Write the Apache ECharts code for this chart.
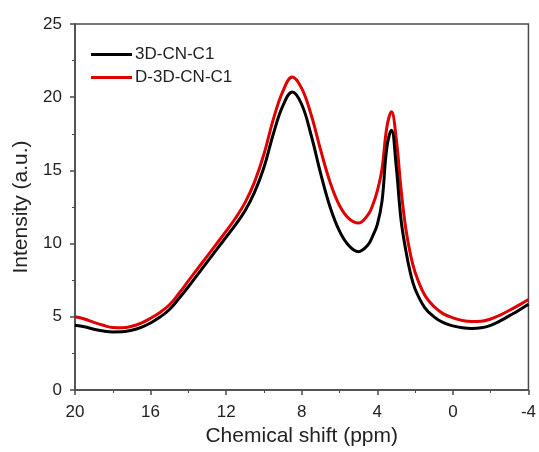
<!DOCTYPE html>
<html>
<head>
<meta charset="utf-8">
<script src="https://cdn.jsdelivr.net/npm/echarts@6/dist/echarts.min.js"></script>
<style>
  html, body { margin: 0; padding: 0; background: #fff; }
  #chart { width: 539px; height: 452px; }
</style>
</head>
<body>
<div id="chart"></div>
<script>
// Chemical shift positions (ppm) shared by both spectra
const shiftPpm = [20, 19.5, 19, 18.5, 18, 17.5, 17, 16.5, 16, 15.5, 15, 14.5, 14, 13.5, 13, 12.5, 12, 11.5, 11, 10.5, 10, 9.5, 9, 8.5, 8, 7.5, 7, 6.5, 6, 5.5, 5, 4.5, 4.25, 4, 3.75, 3.5, 3.25, 3, 2.75, 2.5, 2.25, 2, 1.5, 1, 0.5, 0, -0.5, -1, -1.5, -2, -2.5, -3, -3.5, -4];

// Intensity (a.u.)
const intensityCN = [4.42, 4.32, 4.15, 4.03, 3.97, 3.98, 4.08, 4.28, 4.58, 4.98, 5.5, 6.25, 7.05, 7.9, 8.75, 9.6, 10.45, 11.3, 12.25, 13.5, 15.2, 17.5, 19.4, 20.35, 19.5, 17.4, 14.8, 12.5, 10.85, 9.85, 9.45, 9.9, 10.5, 11.3, 12.9, 16.5, 17.75, 15.3, 11.7, 9.6, 8.0, 6.9, 5.65, 5.0, 4.6, 4.38, 4.25, 4.2, 4.25, 4.42, 4.72, 5.08, 5.45, 5.85];
const intensityDCN = [5.0, 4.85, 4.62, 4.42, 4.27, 4.25, 4.35, 4.57, 4.9, 5.3, 5.82, 6.6, 7.45, 8.3, 9.15, 10.0, 10.85, 11.75, 12.8, 14.2, 16.1, 18.5, 20.4, 21.38, 20.6, 18.8, 16.4, 14.2, 12.6, 11.7, 11.4, 11.95, 12.6, 13.6, 15.1, 17.9, 19.0, 17.2, 13.8, 11.1, 9.3, 8.05, 6.5, 5.7, 5.2, 4.93, 4.75, 4.68, 4.7, 4.85, 5.12, 5.45, 5.8, 6.18];

const seriesNames = ['3D-CN-C1', 'D-3D-CN-C1'];
const seriesColors = ['#000000', '#e00000'];

// Axis ranges and tick spacing
const xMin = -4, xMax = 20, xStep = 4;
const yMin = 0, yMax = 25, yStep = 5;

const pairs = (xs, ys) => xs.map((x, i) => [x, ys[i]]);

const axisColor = '#4a4a4a';
const textColor = '#222222';
const fontFamily = '"Liberation Sans", Arial, sans-serif';

const chart = echarts.init(document.getElementById('chart'), null, { renderer: 'canvas' });

chart.setOption({
  animation: false,
  backgroundColor: '#ffffff',
  textStyle: { fontFamily: fontFamily },
  grid: {
    left: 75, right: 10, top: 24, bottom: 62,
    show: true, borderColor: axisColor, borderWidth: 1.5,
    containLabel: false
  },
  legend: {
    left: 86, top: 41, orient: 'vertical',
    itemWidth: 41, itemHeight: 3, itemGap: 6,
    icon: 'rect',
    textStyle: { fontSize: 17, lineHeight: 17, color: textColor, fontFamily: fontFamily, padding: [0, 0, 0, -2] },
    data: seriesNames
  },
  xAxis: {
    type: 'value', inverse: true,
    min: xMin, max: xMax, interval: xStep,
    name: 'Chemical shift (ppm)', nameLocation: 'middle', nameGap: 33,
    nameTextStyle: { fontSize: 21, color: textColor, fontFamily: fontFamily },
    axisLine: { show: true, onZero: false, lineStyle: { color: axisColor, width: 1.5 } },
    axisTick: { show: true, length: 5, lineStyle: { color: axisColor, width: 1.5 } },
    minorTick: { show: true, splitNumber: 2, length: 3, lineStyle: { color: axisColor, width: 1 } },
    axisLabel: { fontSize: 17, color: textColor, margin: 14, fontFamily: fontFamily },
    splitLine: { show: false }
  },
  yAxis: {
    type: 'value',
    min: yMin, max: yMax, interval: yStep,
    name: 'Intensity (a.u.)', nameLocation: 'middle', nameGap: 41, nameRotate: 90,
    nameTextStyle: { fontSize: 21, color: textColor, fontFamily: fontFamily },
    axisLine: { show: true, onZero: false, lineStyle: { color: axisColor, width: 1.5 } },
    axisTick: { show: true, length: 5, lineStyle: { color: axisColor, width: 1.5 } },
    minorTick: { show: true, splitNumber: 2, length: 3, lineStyle: { color: axisColor, width: 1 } },
    axisLabel: { fontSize: 17, color: textColor, margin: 13, fontFamily: fontFamily },
    splitLine: { show: false }
  },
  series: [
    {
      name: seriesNames[0], type: 'line', data: pairs(shiftPpm, intensityCN),
      showSymbol: false, smooth: 0.4, z: 3,
      itemStyle: { color: seriesColors[0] },
      lineStyle: { color: seriesColors[0], width: 3 }
    },
    {
      name: seriesNames[1], type: 'line', data: pairs(shiftPpm, intensityDCN),
      showSymbol: false, smooth: 0.4, z: 2,
      itemStyle: { color: seriesColors[1] },
      lineStyle: { color: seriesColors[1], width: 3 }
    }
  ]
});
</script>
</body>
</html>
